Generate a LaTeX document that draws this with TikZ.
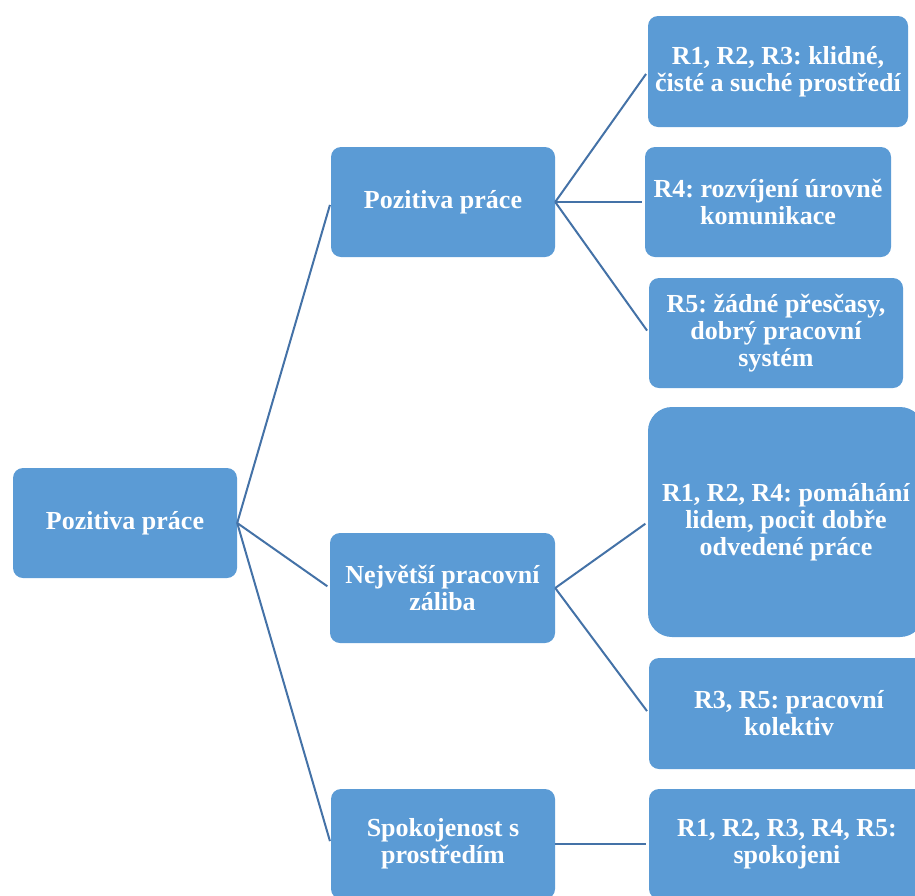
\documentclass[tikz,border=0pt]{standalone}
\usepackage{fontspec}
\setmainfont{Liberation Serif}
\frenchspacing
\definecolor{boxblue}{RGB}{91,155,213}
\definecolor{linkblue}{RGB}{68,114,167}
\begin{document}
\begin{tikzpicture}[x=1pt,y=-1pt,
  box/.style={fill=boxblue,rounded corners=10pt,inner sep=0pt,align=center,
    text=white,font=\fontsize{26}{27}\selectfont\bfseries},
  link/.style={draw=linkblue,line width=2pt}]
\useasboundingbox (0,0) rectangle (915,895);
\clip (0,0) rectangle (915,895);
% root and the three branches
\node[box,minimum width=224pt,minimum height=110pt] (root) at (125,523) {Pozitiva práce};
\node[box,minimum width=224pt,minimum height=110pt] (m1) at (443,202) {Pozitiva práce};
\node[box,minimum width=225pt,minimum height=110pt] (m2) at (442.5,588) {Největší pracovní\\záliba};
\node[box,minimum width=224pt,minimum height=110pt] (m3) at (443,844) {Spokojenost s\\prostředím};
% leaves
\node[box,minimum width=260pt,minimum height=111pt] (r1) at (778,71.5) {R1, R2, R3: klidné,\\čisté a suché prostředí};
\node[box,minimum width=246pt,minimum height=110pt] (r2) at (768,202) {R4: rozvíjení úrovně\\komunikace};
\node[box,minimum width=254pt,minimum height=110pt] (r3) at (776,333) {R5: žádné přesčasy,\\dobrý pracovní\\systém};
\node[box,rounded corners=24pt,minimum width=276pt,minimum height=230pt] (r4) at (786,522) {R1, R2, R4: pomáhání\\lidem, pocit dobře\\odvedené práce};
\node[box,minimum width=280pt,minimum height=111pt] (r5) at (789,713.5) {R3, R5: pracovní\\kolektiv};
\node[box,minimum width=276pt,minimum height=110pt] (r6) at (787,844) {R1, R2, R3, R4, R5:\\spokojeni};
% connectors
\foreach \m in {m1,m2,m3}
  \draw[link,shorten >=3pt] (root.east) -- (\m.west);
\draw[link,shorten >=3pt] (m1.east) -- (r1.west);
\draw[link,shorten >=3pt] (m1.east) -- (r2.west);
\draw[link,shorten >=3pt] (m1.east) -- (r3.west);
\draw[link,shorten >=3pt] (m2.east) -- (r4.west);
\draw[link,shorten >=3pt] (m2.east) -- (r5.west);
\draw[link,shorten >=3pt] (m3.east) -- (r6.west);
\end{tikzpicture}
\end{document}
